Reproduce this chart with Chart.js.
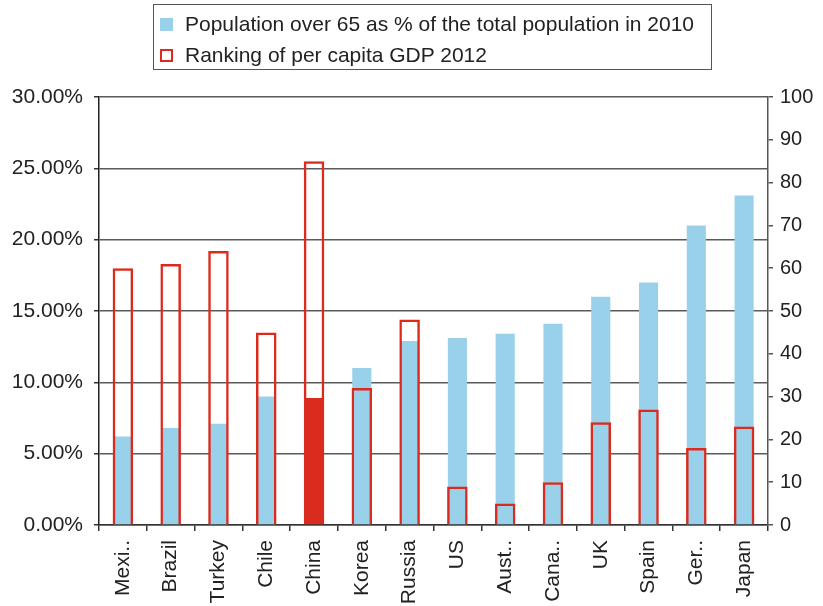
<!DOCTYPE html>
<html>
<head>
<meta charset="utf-8">
<title>Population over 65 and GDP ranking</title>
<script src="https://cdn.jsdelivr.net/npm/chart.js@4.4.1/dist/chart.umd.min.js"></script>
<style>
    body { margin: 0; background: #fff; }
    #wrap { position: relative; width: 823px; height: 606px; font-family: "Liberation Sans", Arial, Helvetica, sans-serif; color: #222; }
    #legend { position: absolute; left: 153px; top: 4px; width: 557px; height: 64px; border: 1.5px solid #555; }
    #legend .sw { position: absolute; left: 6px; width: 13px; height: 13px; box-sizing: border-box; }
    #legend .txt { position: absolute; left: 31px; font-size: 21px; line-height: 21px; white-space: nowrap; }
</style>
</head>
<body>
<div id="wrap">
    <canvas id="ageChart" width="823" height="606"></canvas>
    <div id="legend">
        <span class="sw" style="top:13px;background:#99d1ea;"></span>
        <span class="txt" style="top:8px;">Population over 65 as % of the total population in 2010</span>
        <span class="sw" style="top:44px;border:2px solid #dc2b1c;"></span>
        <span class="txt" style="top:39px;">Ranking of per capita GDP 2012</span>
    </div>
</div>
<script>
;(function () {
    'use strict'

    const countries = ['Mexi..', 'Brazil', 'Turkey', 'Chile', 'China', 'Korea', 'Russia',
        'US', 'Aust..', 'Cana..', 'UK', 'Spain', 'Ger..', 'Japan'];
    // share of population aged 65+ in 2010, percent
    const over65Pct = [6.2, 6.8, 7.1, 9.0, 8.9, 11.0, 12.9, 13.1, 13.4, 14.1, 16.0, 17.0, 21.0, 23.1];
    // world ranking of per capita GDP, 2012
    const gdpRank = [60, 61, 64, 45, 85, 32, 48, 9, 5, 10, 24, 27, 18, 23];
    const highlight = 'China';

    const blue = '#99d1ea';
    const red = '#dc2b1c';
    const family = '"Liberation Sans", Arial, Helvetica, sans-serif';
    const font = { family: family, size: 21 };

    const ctx = document.getElementById('ageChart').getContext('2d');
    new Chart(ctx, {
        type: 'bar',
        data: {
            labels: countries,
            datasets: [
                {
                    label: 'Population over 65 as % of the total population in 2010',
                    data: over65Pct,
                    yAxisID: 'y',
                    backgroundColor: countries.map(c => c === highlight ? '#d92b1e' : blue),
                    borderWidth: 0,
                    barPercentage: 0.4,
                    categoryPercentage: 1,
                    grouped: false,
                    order: 1
                },
                {
                    label: 'Ranking of per capita GDP 2012',
                    data: gdpRank,
                    yAxisID: 'y1',
                    backgroundColor: 'rgba(0,0,0,0)',
                    borderColor: red,
                    borderWidth: 2.5,
                    barPercentage: 0.43,
                    categoryPercentage: 1,
                    grouped: false,
                    order: 0
                }
            ]
        },
        options: {
            responsive: false,
            animation: false,
            devicePixelRatio: 1,
            layout: { padding: { top: 97, left: 0, right: 0, bottom: 0 } },
            plugins: {
                legend: { display: false },
                tooltip: { enabled: false }
            },
            scales: {
                x: {
                    offset: true,
                    grid: { drawOnChartArea: false, offset: true, tickLength: 6, color: '#333', lineWidth: 1.5 },
                    border: { color: '#333', width: 1.5 },
                    ticks: { color: '#222', font: font, minRotation: 90, maxRotation: 90, padding: 9, autoSkip: false },
                    afterFit: function (scale) { scale.height = 81; }
                },
                y: {
                    position: 'left',
                    min: 0,
                    max: 30,
                    grid: { color: '#5a5a5a', lineWidth: 1.5, tickLength: 5, tickColor: '#333' },
                    border: { color: '#222', width: 1.5 },
                    ticks: {
                        stepSize: 5,
                        color: '#222',
                        font: font,
                        padding: 11,
                        callback: v => v.toFixed(2) + '%'
                    },
                    afterFit: function (scale) { scale.width = 99; }
                },
                y1: {
                    position: 'right',
                    min: 0,
                    max: 100,
                    grid: { drawOnChartArea: false, tickLength: 5, color: '#555', lineWidth: 1.5 },
                    border: { color: '#555', width: 1.5 },
                    ticks: { stepSize: 10, color: '#222', font: { family: family, size: 20 }, padding: 7 },
                    afterFit: function (scale) { scale.width = 55; }
                }
            }
        }
    });
})();
</script>
</body>
</html>
